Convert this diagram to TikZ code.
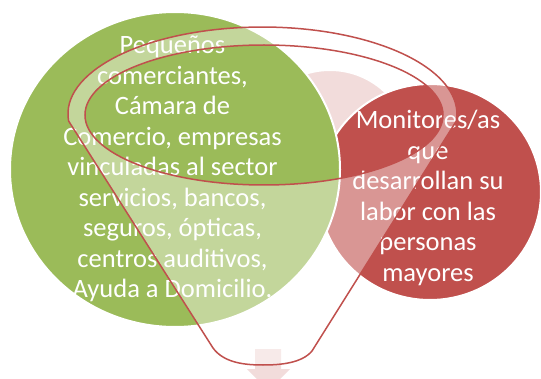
\documentclass[tikz,border=0pt]{standalone}
\usepackage{fontspec}
\setmainfont{Carlito}
\usetikzlibrary{shapes.geometric}
\definecolor{accentgreen}{rgb}{0.608, 0.733, 0.349}
\definecolor{accentred}{rgb}{0.753, 0.314, 0.302}
\definecolor{accentpink}{rgb}{0.949, 0.863, 0.859}
\tikzset{bubble/.style={ellipse, draw=white, line width=2pt, inner sep=0pt}}
\tikzset{bubbletext/.style={text=white, align=center, font=\fontsize{26.5}{30.5}\selectfont}}
\tikzset{funnel/.style={line width=1.5pt, color=accentred}}

\begin{document}
\begin{tikzpicture}[x=1pt, y=1pt]%{{{
        \useasboundingbox (0,0) rectangle (541,378);
        \clip (0,0) rectangle (541,378);

        \node[bubble, fill=accentpink, minimum width=160pt, minimum height=160pt] (Bpink) at (330, 228) {};
        \node[bubble, fill=accentred, minimum width=222pt, minimum height=216pt] (Bred) at (430, 186) {};
        \node[bubble, fill=accentgreen, minimum width=330pt, minimum height=315pt] (Bgreen) at (175, 208.5) {};

        \node[bubbletext] (Tgreen) at (172.5, 209)
        {Pequeños\\comerciantes,\\Cámara de\\Comercio, empresas\\vinculadas al sector\\servicios, bancos,\\seguros, ópticas,\\centros auditivos,\\Ayuda a Domicilio.};
        \node[bubbletext] (Tred) at (428, 180)
        {Monitores/as\\que\\desarrollan su\\labor con las\\personas\\mayores};

        \fill [accentpink] (255,29) -- (281,29) -- (281,9) -- (290,9) -- (268.5,-13)
        -- (247,9) -- (255,9) -- cycle;

        \draw [funnel, fill=white, fill opacity=0.4, even odd rule]
        (68.6,257) arc[start angle=184.6, end angle=-4.6, x radius=194.5pt, y radius=87pt]
        -- (312,27) .. controls (302,15) and (281,13) .. (263,13)
        .. controls (245,13) and (224,15) .. (213,30) -- cycle
        (264,263) ellipse[x radius=179pt, y radius=70pt];
    \end{tikzpicture}
\end{document}
